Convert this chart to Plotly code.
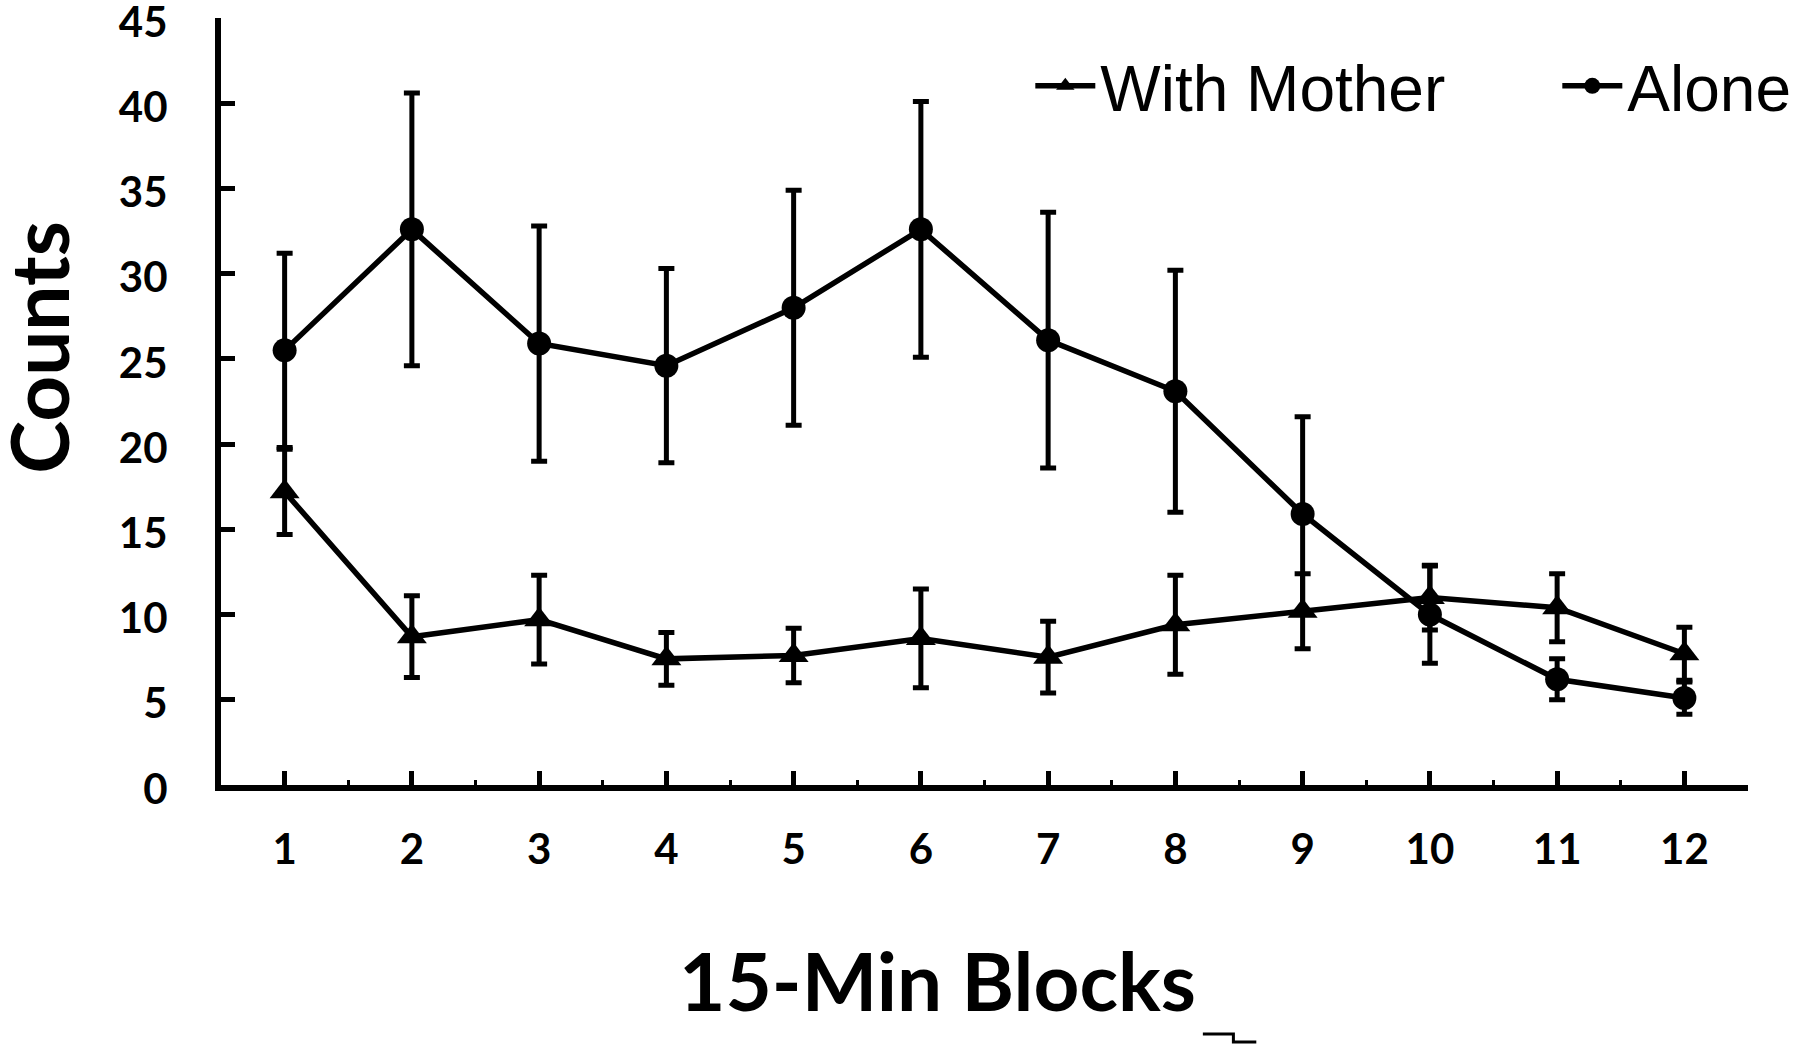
import plotly.graph_objects as go

# 15-min blocks and counts (mean +/- error)
blocks = [1, 2, 3, 4, 5, 6, 7, 8, 9, 10, 11, 12]

mother = [17.2, 8.7, 9.7, 7.4, 7.6, 8.6, 7.5, 9.4, 10.2, 11.0, 10.4, 7.7]
mother_err = [2.5, 2.4, 2.6, 1.55, 1.6, 2.9, 2.1, 2.9, 2.2, 1.9, 2.0, 1.55]

alone = [25.5, 32.6, 25.9, 24.6, 28.0, 32.6, 26.1, 23.1, 15.9, 10.0, 6.2, 5.1]
alone_err = [5.7, 8.0, 6.9, 5.7, 6.9, 7.5, 7.5, 7.1, 5.7, 2.85, 1.2, 0.95]

y_ticks = [0, 5, 10, 15, 20, 25, 30, 35, 40, 45]

bold = dict(family="Lato", size=42, color="black", weight="bold")
title_font = dict(family="Lato", size=80, color="black", weight="bold")

fig = go.Figure()
fig.add_trace(go.Scatter(
    x=blocks, y=mother, name="With Mother", mode="lines+markers",
    line=dict(color="black", width=5.5),
    marker=dict(symbol="triangle-up", size=26, color="black"),
    error_y=dict(type="data", array=mother_err, color="black", thickness=5, width=8),
))
fig.add_trace(go.Scatter(
    x=blocks, y=alone, name="Alone", mode="lines+markers",
    line=dict(color="black", width=5.5),
    marker=dict(symbol="circle", size=24, color="black"),
    error_y=dict(type="data", array=alone_err, color="black", thickness=5, width=8),
))

fig.update_xaxes(
    range=[0.5, 12.5], tickvals=blocks, showgrid=False, zeroline=False,
    showline=True, linecolor="black", linewidth=6,
    ticks="inside", ticklen=14, tickwidth=5, tickcolor="black",
    minor=dict(ticks="inside", ticklen=5, tickwidth=3, tickcolor="black", tick0=0.5, dtick=1),
    tickfont=bold, ticklabelstandoff=23, ticklabeloverflow="allow",
)
fig.update_yaxes(
    range=[0, 45], tickvals=y_ticks, showgrid=False, zeroline=False,
    showline=True, linecolor="black", linewidth=6,
    ticks="inside", ticklen=14, tickwidth=5, tickcolor="black",
    tickfont=bold, ticklabelstandoff=39, ticklabelshift=4, ticklabeloverflow="allow",
)

# axis titles
fig.add_annotation(text="Counts", xref="paper", yref="paper", x=-0.12, y=0.571,
                   xanchor="center", yanchor="middle", textangle=-90, showarrow=False,
                   font=title_font)
fig.add_annotation(text="15-Min Blocks", xref="paper", yref="paper", x=0.469, y=-0.254,
                   xanchor="center", yanchor="middle", showarrow=False,
                   font=title_font)

# small stray stroke under the title
fig.add_shape(type="path", xref="paper", yref="paper",
              path="M 0.643 -0.3246 L 0.663 -0.3246 L 0.663 -0.335 L 0.678 -0.335",
              line=dict(color="black", width=3))

fig.update_layout(
    width=1800, height=1048,
    margin=dict(l=221, r=52, t=18, b=263, autoexpand=False),
    paper_bgcolor="white", plot_bgcolor="white",
    showlegend=True,
    legend=dict(orientation="h", x=0.53, xanchor="left", y=0.911, yanchor="middle",
                font=dict(family="Liberation Sans", size=64, color="black"),
                bgcolor="rgba(0,0,0,0)", entrywidth=452, itemwidth=60, itemsizing="trace"),
)

fig.write_html("out.html", config={"displayModeBar": False},
               post_script="document.body.style.margin='0';")
